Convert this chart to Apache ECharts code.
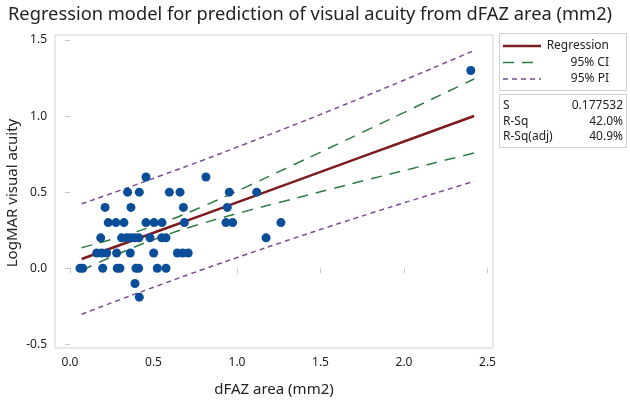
<!DOCTYPE html>
<html>
<head>
<meta charset="utf-8">
<script src="https://cdn.jsdelivr.net/npm/echarts@6/dist/echarts.min.js"></script>
<style>html,body{margin:0;padding:0;background:#fff}#c{width:630px;height:402px}</style>
</head>
<body>
<div id="c"></div>
<script>
// ---- data ----
const xTicks = [0, 0.5, 1.0, 1.5, 2.0, 2.5];
const yTicks = [-0.5, 0.0, 0.5, 1.0, 1.5];

const pointsX = [
  0.455, 0.814,
  0.345, 0.415, 0.595, 0.659, 0.954, 1.118,
  0.210, 0.365, 0.679, 0.942,
  0.229, 0.275, 0.323, 0.455, 0.503, 0.551, 0.685, 0.934, 0.974, 1.263,
  0.184, 0.309, 0.339, 0.365, 0.389, 0.413, 0.479, 0.549, 0.575, 1.174,
  0.160, 0.190, 0.220, 0.279, 0.361, 0.501, 0.643, 0.675, 0.708,
  0.060, 0.076, 0.196, 0.283, 0.299, 0.395, 0.411, 0.523, 0.575,
  0.389, 0.415, 2.40
];
const pointsY = [
  0.6, 0.6,
  0.5, 0.5, 0.5, 0.5, 0.5, 0.5,
  0.4, 0.4, 0.4, 0.4,
  0.3, 0.3, 0.3, 0.3, 0.3, 0.3, 0.3, 0.3, 0.3, 0.3,
  0.2, 0.2, 0.2, 0.2, 0.2, 0.2, 0.2, 0.2, 0.2, 0.2,
  0.1, 0.1, 0.1, 0.1, 0.1, 0.1, 0.1, 0.1, 0.1,
  0.0, 0.0, 0.0, 0.0, 0.0, 0.0, 0.0, 0.0, 0.0,
  -0.1, -0.19, 1.3
];

const bandX   = [0.07, 0.30, 0.55, 0.80, 1.05, 1.30, 1.55, 1.80, 2.05, 2.30, 2.42];
const fitY    = [0.061, 0.153, 0.253, 0.353, 0.453, 0.553, 0.653, 0.753, 0.853, 0.953, 1.001];
const ciUpper = [0.135, 0.207, 0.298, 0.409, 0.532, 0.660, 0.789, 0.919, 1.050, 1.181, 1.244];
const ciLower = [-0.013, 0.099, 0.208, 0.297, 0.374, 0.446, 0.517, 0.587, 0.656, 0.725, 0.758];
const piUpper = [0.424, 0.512, 0.611, 0.712, 0.817, 0.924, 1.033, 1.145, 1.259, 1.375, 1.431];
const piLower = [-0.302, -0.206, -0.105, -0.006, 0.089, 0.182, 0.273, 0.361, 0.447, 0.531, 0.571];

const legendNames = ['Regression', '95% CI', '95% PI'];
const statNames = ['S', 'R-Sq', 'R-Sq(adj)'];
const statValues = ['0.177532', '42.0%', '40.9%'];

const titleText = 'Regression model for prediction of visual acuity from dFAZ area (mm2)';
const xName = 'dFAZ area (mm2)';
const yName = 'LogMAR visual acuity';

// ---- chart ----
const FONT = '"Noto Sans", "Open Sans", sans-serif';
const C_REG = '#7e1b1f', C_CI = '#2f7a46', C_PI = '#7a4f8e', C_PT = '#0a4e9a';
const pair = (xs, ys) => xs.map((x, i) => [x, ys[i]]);

const chart = echarts.init(document.getElementById('c'), null, {renderer: 'canvas'});

const g = [];
// legend box
g.push({type: 'rect', shape: {x: 499.5, y: 33.5, width: 127, height: 57},
  style: {fill: '#fff', stroke: '#d0d0d0', lineWidth: 1}});
const legStyles = [
  {stroke: C_REG, lineWidth: 2.5},
  {stroke: C_CI, lineWidth: 1.5, lineDash: [11, 8]},
  {stroke: C_PI, lineWidth: 1.5, lineDash: [5, 4]}
];
legendNames.forEach((n, i) => {
  const y = 46 + i * 16.5;
  g.push({type: 'line', shape: {x1: 503, y1: y, x2: 541, y2: y}, style: legStyles[i]});
  g.push({type: 'text', x: 609, y: y, style: {text: n, align: 'right', verticalAlign: 'middle',
    font: '12px ' + FONT, fill: '#222'}});
});
// stats box
g.push({type: 'rect', shape: {x: 499.5, y: 94.5, width: 127, height: 53},
  style: {fill: '#fff', stroke: '#d0d0d0', lineWidth: 1}});
statNames.forEach((n, i) => {
  const y = 106 + i * 15.5;
  g.push({type: 'text', x: 503, y: y, style: {text: n, align: 'left', verticalAlign: 'middle',
    font: '12px ' + FONT, fill: '#222'}});
  g.push({type: 'text', x: 623, y: y, style: {text: statValues[i], align: 'right', verticalAlign: 'middle',
    font: '12px ' + FONT, fill: '#222'}});
});
// y axis name
g.push({type: 'text', x: 13, y: 193, rotation: Math.PI / 2,
  style: {text: yName, align: 'center', verticalAlign: 'middle', font: '15px ' + FONT, fill: '#222'}});

const option = {
  animation: false,
  backgroundColor: '#fff',
  title: {text: titleText, left: 3, top: 1,
    textStyle: {fontFamily: FONT, fontSize: 18.3, fontWeight: 'normal', color: '#222'}},
  grid: {left: 55, right: 137, top: 35, bottom: 44, show: true, borderColor: '#d0d0d0', borderWidth: 1,
    backgroundColor: '#fff', containLabel: false},
  xAxis: {
    type: 'value', min: -0.0898, max: 2.533,
    name: xName, nameLocation: 'middle', nameGap: 34,
    nameTextStyle: {fontFamily: FONT, fontSize: 15, color: '#222'},
    axisLine: {show: false},
    splitLine: {show: false},
    axisTick: {show: true, customValues: xTicks, length: 5, lineStyle: {color: '#c8c8c8'}},
    axisLabel: {customValues: xTicks, formatter: v => v.toFixed(1), margin: 9,
      fontFamily: FONT, fontSize: 12, color: '#222'}
  },
  yAxis: {
    type: 'value', min: -0.524, max: 1.533,
    axisLine: {show: false},
    splitLine: {show: false},
    axisTick: {show: true, customValues: yTicks, length: 5, lineStyle: {color: '#c8c8c8'}},
    axisLabel: {customValues: yTicks, formatter: v => v.toFixed(1), margin: 8,
      fontFamily: FONT, fontSize: 12, color: '#222'}
  },
  graphic: g,
  series: [
    {type: 'line', data: pair(bandX, piUpper), smooth: true, symbol: 'none',
      lineStyle: {color: C_PI, width: 1.5, type: [5, 4]}, z: 2},
    {type: 'line', data: pair(bandX, piLower), smooth: true, symbol: 'none',
      lineStyle: {color: C_PI, width: 1.5, type: [5, 4]}, z: 2},
    {type: 'line', data: pair(bandX, ciUpper), smooth: true, symbol: 'none',
      lineStyle: {color: C_CI, width: 1.5, type: [11, 8]}, z: 2},
    {type: 'line', data: pair(bandX, ciLower), smooth: true, symbol: 'none',
      lineStyle: {color: C_CI, width: 1.5, type: [11, 8]}, z: 2},
    {type: 'line', data: pair(bandX, fitY), smooth: false, symbol: 'none',
      lineStyle: {color: C_REG, width: 2.5}, z: 3},
    {type: 'scatter', data: pair(pointsX, pointsY), symbol: 'circle', symbolSize: 9,
      itemStyle: {color: C_PT, opacity: 1}, z: 4}
  ]
};
chart.setOption(option);
</script>
</body>
</html>
